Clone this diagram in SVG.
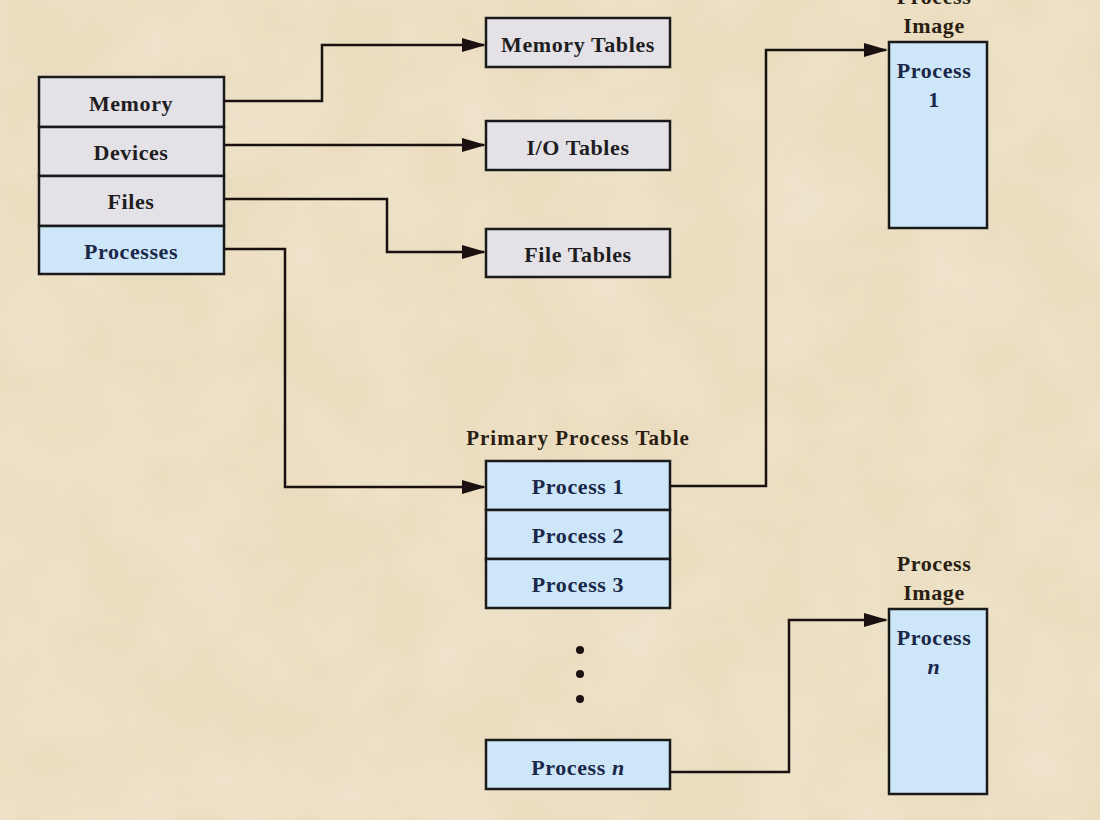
<svg xmlns="http://www.w3.org/2000/svg" width="1100" height="820" viewBox="0 0 1100 820">
<defs>
<marker id="arr" markerWidth="24" markerHeight="14" refX="22" refY="7" orient="auto" markerUnits="userSpaceOnUse">
<path d="M0,0 L24,7 L0,14 Z" fill="#1a1010"/>
</marker>
<filter id="tex" x="0" y="0" width="100%" height="100%">
<feTurbulence type="fractalNoise" baseFrequency="0.012" numOctaves="3" seed="4"/>
<feColorMatrix type="matrix" values="0 0 0 0 1  0 0 0 0 1  0 0 0 0 1  0 0 0 0.35 -0.1"/>
</filter>
</defs>
<style>
.gray{fill:#e4e2e6;stroke:#1a1a1a;stroke-width:2.5}
.blue{fill:#cde6f8;stroke:#1a1a1a;stroke-width:2.5}
.t{font-family:"Liberation Serif","Times New Roman",serif;font-weight:bold;font-size:22px;letter-spacing:0.6px;text-anchor:middle}
.tg{fill:#1e1e22}
.tb{fill:#1a2748}
.lab{fill:#2a1e14}
.conn{fill:none;stroke:#1a1010;stroke-width:2.5;marker-end:url(#arr)}
</style>
<rect width="1100" height="820" fill="#eadcbe"/>
<rect width="1100" height="820" filter="url(#tex)"/>

<g id="left-stack">
<g id="memory"><rect class="gray" x="39" y="77" width="185" height="50"/><text class="t tg" x="131" y="111">Memory</text></g>
<g id="devices"><rect class="gray" x="39" y="127" width="185" height="49"/><text class="t tg" x="131" y="160">Devices</text></g>
<g id="files"><rect class="gray" x="39" y="176" width="185" height="50"/><text class="t tg" x="131" y="209">Files</text></g>
<g id="processes"><rect class="blue" x="39" y="226" width="185" height="48"/><text class="t tb" x="131" y="259">Processes</text></g>
</g>

<g id="memory-tables"><rect class="gray" x="486" y="18" width="184" height="49"/><text class="t tg" x="578" y="52">Memory Tables</text></g>
<g id="io-tables"><rect class="gray" x="486" y="121" width="184" height="49"/><text class="t tg" x="578" y="155">I/O Tables</text></g>
<g id="file-tables"><rect class="gray" x="486" y="229" width="184" height="48"/><text class="t tg" x="578" y="262">File Tables</text></g>

<g id="primary-process-table">
<text class="t lab" x="578" y="445" style="font-size:21px;letter-spacing:1px">Primary Process Table</text>
<g id="pt-process-1"><rect class="blue" x="486" y="461" width="184" height="49"/><text class="t tb" x="578" y="494">Process 1</text></g>
<g id="pt-process-2"><rect class="blue" x="486" y="510" width="184" height="49"/><text class="t tb" x="578" y="543">Process 2</text></g>
<g id="pt-process-3"><rect class="blue" x="486" y="559" width="184" height="49"/><text class="t tb" x="578" y="592">Process 3</text></g>
<g id="dots" fill="#1a1010"><circle cx="580" cy="650" r="4"/><circle cx="580" cy="674" r="4"/><circle cx="580" cy="699" r="4"/></g>
<g id="pt-process-n"><rect class="blue" x="486" y="740" width="184" height="49"/><text class="t tb" x="578" y="775">Process <tspan font-style="italic">n</tspan></text></g>
</g>

<g id="process-image-1">
<text class="t lab" x="934" y="4">Process</text>
<text class="t lab" x="934" y="33">Image</text>
<rect class="blue" x="889" y="42" width="98" height="186"/>
<text class="t tb" x="934" y="78">Process</text>
<text class="t tb" x="934" y="107">1</text>
</g>

<g id="process-image-n">
<text class="t lab" x="934" y="571">Process</text>
<text class="t lab" x="934" y="600">Image</text>
<rect class="blue" x="889" y="609" width="98" height="185"/>
<text class="t tb" x="934" y="645">Process</text>
<text class="t tb" x="934" y="674" font-style="italic">n</text>
</g>

<g id="connectors">
<path class="conn" d="M224,101 H322 V45 H484"/>
<path class="conn" d="M224,145 H484"/>
<path class="conn" d="M224,199 H387 V252 H484"/>
<path class="conn" d="M224,249 H285 V487 H484"/>
<path class="conn" d="M670,486 H766 V50 H886"/>
<path class="conn" d="M670,772 H789 V620 H886"/>
</g>
</svg>
